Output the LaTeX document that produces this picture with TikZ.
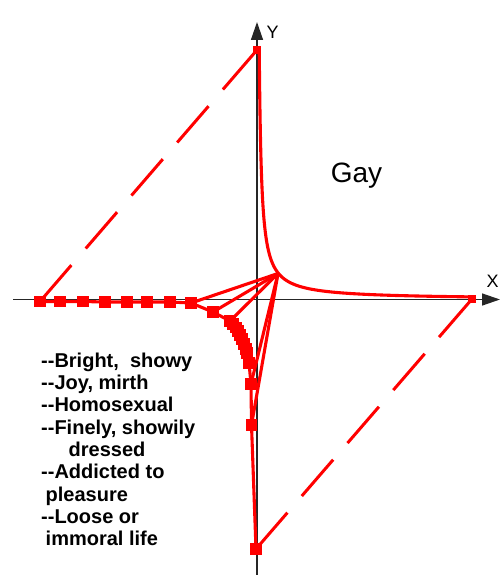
\documentclass[tikz,border=0pt]{standalone}
\usepackage{fontspec}
\setmainfont{Liberation Sans}
\usetikzlibrary{arrows.meta}
\begin{document}
\begin{tikzpicture}[x=1pt,y=-1pt,
  redline/.style={draw=red, line width=3.1pt, line join=round, line cap=round},
  dashline/.style={draw=red, line width=3pt, dash pattern=on 48pt off 22pt},
  mk/.style={fill=red, draw=none, rectangle, minimum size=11.5pt, inner sep=0pt},
  smk/.style={fill=red, draw=none, rectangle, minimum size=8.5pt, inner sep=0pt},
  axis/.style={draw=black!85, line width=1.4pt},
  axtip/.style={-{Triangle[length=18pt,width=12pt]}},
  axlbl/.style={font=\fontsize{18}{20}\selectfont, inner sep=0pt},
  lbl/.style={font=\fontsize{20}{22}\selectfont\bfseries, anchor=base west, inner sep=0pt}]
\useasboundingbox (0,0) rectangle (503,575);
% axes
\coordinate (xs) at (13,299.5);
\coordinate (xe) at (500,299.5);
\coordinate (ys) at (257,575);
\coordinate (ye) at (257,22);
\draw[axis,axtip] (xs) -- (xe);
\draw[axis,axtip] (ys) -- (ye);
\node[axlbl] (ylab) at (272.5,32.5) {Y};
\node[axlbl] (xlab) at (492.5,281.5) {X};
% markers on the negative side
\node[mk] (a1) at (40,301.5) {};
\node[mk] (a2) at (60,301.5) {};
\node[mk] (a3) at (83,301.5) {};
\node[mk] (a4) at (105,302) {};
\node[mk] (a5) at (127,302) {};
\node[mk] (a6) at (147,302) {};
\node[mk] (a7) at (170,302) {};
\node[mk] (a8) at (191,303) {};
\node[mk] (a9) at (213,312) {};
\node[mk] (b1) at (230,321) {};
\node[mk] (b2) at (233,324) {};
\node[mk] (b3) at (236,327.5) {};
\node[mk] (b4) at (238,331) {};
\node[mk] (b5) at (240,335) {};
\node[mk] (b6) at (242,339) {};
\node[mk] (b7) at (244,344) {};
\node[mk] (b8) at (246,349) {};
\node[mk] (b9) at (247,353) {};
\node[mk] (c1) at (249,363) {};
\node[mk] (c2) at (251,384) {};
\node[mk] (c3) at (251.5,425) {};
\node[mk] (c4) at (256,549) {};
% end markers on the positive side
\node[smk] (T) at (257,50) {};
\node[smk] (R) at (472,299) {};
\coordinate (H) at (278,273.5);
% dashed lines
\draw[dashline] (a1.center) -- (T.center);
\draw[dashline] (c4.center) -- (R.center);
% positive-side curve
\draw[redline] plot[domain=0.806:5.37, samples=160, variable=\t] ({257+exp(\t)},{299.5-560/exp(\t)});
% negative-side path
\draw[redline] (a1.center) -- (a2.center) -- (a3.center) -- (a4.center) -- (a5.center)
  -- (a6.center) -- (a7.center) -- (a8.center) -- (a9.center) -- (b1.center)
  -- (b2.center) -- (b3.center) -- (b4.center) -- (b5.center) -- (b6.center)
  -- (b7.center) -- (b8.center) -- (b9.center) -- (c1.center) -- (c2.center)
  -- (c3.center) -- (c4.center);
% lines from the hub
\foreach \n in {a8,a9,b1,c2,c3} \draw[redline] (H) -- (\n.center);
% texts
\node[font=\fontsize{28}{30}\selectfont, anchor=base, inner sep=0pt] (gay) at (356.5,182.5) {Gay};
\node[lbl] (t1) at (41,367.3) {-{}-Bright,\ \ showy};
\node[lbl] (t2) at (41,389.6) {-{}-Joy, mirth};
\node[lbl] (t3) at (41,411.9) {-{}-Homosexual};
\node[lbl] (t4) at (41,434.2) {-{}-Finely, showily};
\node[lbl] (t5) at (68.5,456.5) {dressed};
\node[lbl] (t6) at (41,478.8) {-{}-Addicted to};
\node[lbl] (t7) at (45.5,501.1) {pleasure};
\node[lbl] (t8) at (41,523.4) {-{}-Loose or};
\node[lbl] (t9) at (45.5,545.7) {immoral life};
\end{tikzpicture}
\end{document}
